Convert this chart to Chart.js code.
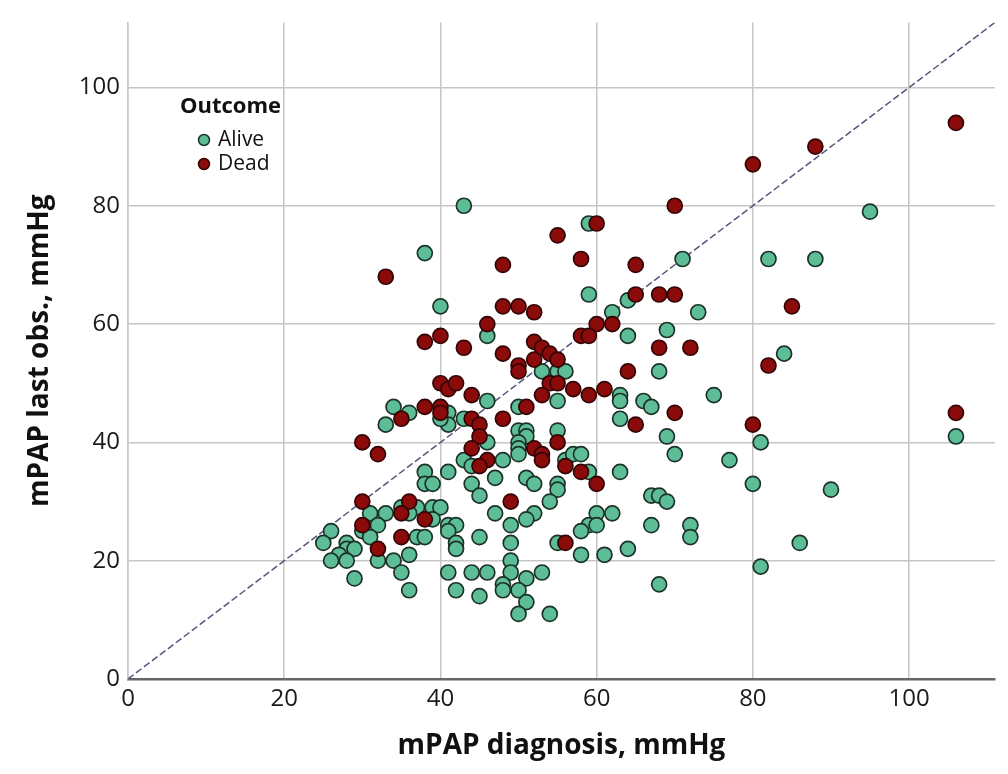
<!DOCTYPE html>
<html>
<head>
<meta charset="utf-8">
<script src="https://cdn.jsdelivr.net/npm/chart.js@4.4.1/dist/chart.umd.min.js"></script>
<style>
  html, body { margin: 0; padding: 0; background: #fff; }
  #wrap { width: 1008px; height: 774px; position: relative; }
</style>
</head>
<body>
<div id="wrap"><canvas id="chart" width="1008" height="774"></canvas></div>
<script>
// Data: [mPAP at diagnosis, mPAP last obs.]
const alivePoints = [
  [43,80],[59,77],[95,79],[38,72],[71,71],[82,71],[88,71],[59,65],[64,64],[40,63],
  [62,62],[73,62],[69,59],[46,58],[64,58],[84,55],[53,52],[55,52],[56,52],[68,52],
  [63,48],[63,47],[66,47],[67,46],[75,48],[46,47],[55,47],[34,46],[36,45],[41,45],
  [41,43],[40,44],[43,44],[33,43],[63,44],[50,46],[50,42],[51,42],[51,41],[50,40],
  [55,42],[69,41],[106,41],[81,40],[46,40],[70,38],[77,37],[50,39],[50,38],[48,37],
  [43,37],[44,36],[56,37],[57,38],[58,38],[38,35],[41,35],[63,35],[59,35],[38,33],
  [39,33],[44,33],[80,33],[47,34],[51,34],[52,33],[55,33],[55,32],[90,32],[45,31],
  [67,31],[68,31],[69,30],[54,30],[35,29],[37,29],[39,29],[40,29],[31,28],[33,28],
  [36,28],[47,28],[52,28],[60,28],[62,28],[39,27],[51,27],[32,26],[41,26],[42,26],
  [49,26],[59,26],[60,26],[67,26],[72,26],[26,25],[30,25],[41,25],[58,25],[31,24],
  [37,24],[38,24],[45,24],[72,24],[25,23],[28,23],[42,23],[49,23],[55,23],[86,23],
  [28,22],[29,22],[42,22],[64,22],[27,21],[36,21],[58,21],[61,21],[26,20],[28,20],
  [32,20],[34,20],[49,20],[81,19],[29,17],[35,18],[41,18],[44,18],[46,18],[49,18],
  [53,18],[51,17],[48,16],[68,16],[36,15],[42,15],[48,15],[50,15],[45,14],[51,13],
  [50,11],[54,11]
];
const deadPoints = [
  [106,94],[88,90],[80,87],[70,80],[60,77],[55,75],[58,71],[48,70],[65,70],[33,68],
  [65,65],[68,65],[70,65],[48,63],[50,63],[52,62],[85,63],[46,60],[60,60],[62,60],
  [58,58],[59,58],[40,58],[38,57],[43,56],[48,55],[52,57],[53,56],[54,55],[55,54],
  [52,54],[68,56],[72,56],[82,53],[50,53],[50,52],[64,52],[54,50],[55,50],[40,50],
  [41,49],[42,50],[57,49],[59,48],[61,49],[44,48],[53,48],[38,46],[40,46],[40,45],
  [51,46],[70,45],[106,45],[35,44],[44,44],[48,44],[45,43],[45,41],[65,43],[80,43],
  [30,40],[55,40],[44,39],[52,39],[53,38],[53,37],[32,38],[46,37],[45,36],[56,36],
  [58,35],[60,33],[36,30],[30,30],[49,30],[35,28],[38,27],[30,26],[35,24],[32,22],
  [56,23]
];
// identity reference line y = x
const refLine = [0, 111];
const axisMax = 111;
const tickStep = 20;

const seriesNames = ['Alive', 'Dead'];
const legendTitle = 'Outcome';
const xTitle = 'mPAP diagnosis, mmHg';
const yTitle = 'mPAP last obs., mmHg';

const aliveFill = '#5dbd97';
const aliveEdge = '#1c3229';
const deadFill = '#8b0b0b';
const deadEdge = '#330404';
const gridColor = '#c6c6c6';

const toXY = pts => pts.map(p => ({ x: p[0], y: p[1] }));

// Legend drawn inside the plot, like the SPSS one
const insideLegend = {
  id: 'insideLegend',
  afterDraw(chart) {
    const ctx = chart.ctx;
    ctx.save();
    ctx.textBaseline = 'middle';
    ctx.textAlign = 'left';
    ctx.fillStyle = '#111';
    ctx.font = 'bold 22px "Open Sans"';
    ctx.fillText(legendTitle, 180, 107);
    const items = [
      { label: seriesNames[0], fill: aliveFill, edge: aliveEdge, y: 140 },
      { label: seriesNames[1], fill: deadFill, edge: deadEdge, y: 164 }
    ];
    items.forEach(it => {
      ctx.beginPath();
      ctx.arc(204, it.y, 5.5, 0, Math.PI * 2);
      ctx.fillStyle = it.fill;
      ctx.fill();
      ctx.lineWidth = 1.5;
      ctx.strokeStyle = it.edge;
      ctx.stroke();
      ctx.fillStyle = '#111';
      ctx.font = '21px "Open Sans"';
      ctx.fillText(it.label, 218, it.y);
    });
    ctx.restore();
  }
};

const ctx = document.getElementById('chart').getContext('2d');
new Chart(ctx, {
  type: 'scatter',
  data: {
    datasets: [
      {
        label: seriesNames[1],
        data: toXY(deadPoints),
        backgroundColor: deadFill,
        borderColor: deadEdge,
        borderWidth: 1.7,
        pointRadius: 7.5,
        order: 0
      },
      {
        label: seriesNames[0],
        data: toXY(alivePoints),
        backgroundColor: aliveFill,
        borderColor: aliveEdge,
        borderWidth: 1.7,
        pointRadius: 7.5,
        order: 1
      },
      {
        type: 'line',
        label: 'y = x',
        data: refLine.map(v => ({ x: v, y: v })),
        borderColor: '#55557a',
        borderWidth: 1.5,
        borderDash: [7, 3],
        pointRadius: 0,
        fill: false,
        order: 2
      }
    ]
  },
  options: {
    responsive: false,
    animation: false,
    layout: { padding: { top: 13, right: 13, bottom: 0, left: 0 } },
    plugins: {
      legend: { display: false },
      tooltip: { enabled: false }
    },
    scales: {
      x: {
        type: 'linear',
        min: 0,
        max: axisMax,
        afterFit(scale) { scale.height = 95; },
        ticks: {
          stepSize: tickStep,
          includeBounds: false,
          padding: 6,
          color: '#1a1a1a',
          font: { family: 'Open Sans', size: 24 }
        },
        grid: { color: gridColor, lineWidth: 1.5, drawTicks: false },
        border: { display: true, color: '#666', width: 2.5 },
        title: {
          display: true,
          text: xTitle,
          color: '#111',
          font: { family: 'Open Sans', size: 28, weight: 'bold' },
          padding: { top: 0, bottom: 11 }
        }
      },
      y: {
        type: 'linear',
        min: 0,
        max: axisMax,
        afterFit(scale) { scale.width = 128; },
        ticks: {
          stepSize: tickStep,
          includeBounds: false,
          padding: 8,
          color: '#1a1a1a',
          font: { family: 'Open Sans', size: 24 }
        },
        grid: { color: gridColor, lineWidth: 1.5, drawTicks: false },
        border: { display: true, color: gridColor, width: 1.5 },
        title: {
          display: true,
          text: yTitle,
          color: '#111',
          font: { family: 'Open Sans', size: 28, weight: 'bold' },
          padding: { top: 23, bottom: 0 }
        }
      }
    }
  },
  plugins: [insideLegend]
});
</script>
</body>
</html>
